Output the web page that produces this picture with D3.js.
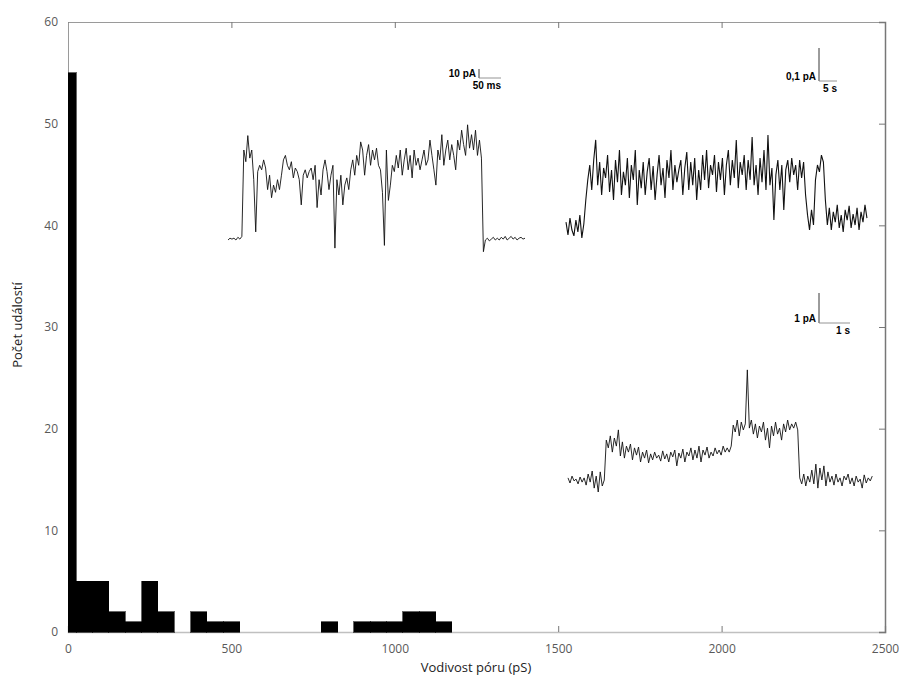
<!DOCTYPE html>
<html>
<head>
<meta charset="utf-8">
<script src="https://cdn.jsdelivr.net/npm/d3@7"></script>
<style>
body { margin: 0; background: #fff; }
text { font-family: "Open Sans", "DejaVu Sans", sans-serif; }
</style>
</head>
<body>
<svg id="chart" width="900" height="677"></svg>
<script>
// histogram of pore conductance (pS)
var binLo  = [0, 25, 75, 125, 175, 225, 275, 375, 425, 475, 775, 875, 925, 975, 1025, 1075, 1125];
var binHi  = [25, 75, 125, 175, 225, 275, 325, 425, 475, 525, 825, 925, 975, 1025, 1075, 1125, 1175];
var counts = [55, 5, 5, 2, 1, 5, 2, 2, 1, 1, 1, 1, 1, 1, 2, 2, 1];

var xTicks = [0, 500, 1000, 1500, 2000, 2500];
var yTicks = [0, 10, 20, 30, 40, 50, 60];

// example recordings, current sampled at equal time steps
// trace A: pA, step 4.5 ms
var traceA = [0, 2, 1, 2, 0, 3, 1, 4, 100, 87, 116, 91, 100, 67, 9, 76, 83, 78, 89, 80,
  56, 72, 47, 61, 53, 67, 56, 72, 89, 94, 83, 78, 87, 69, 80, 76, 67, 39, 72, 78,
  69, 76, 80, 67, 83, 36, 67, 50, 78, 89, 76, 56, 72, 83, -9, 67, 50, 72, 39, 61,
  69, 56, 78, 89, 72, 94, 83, 109, 100, 72, 94, 106, 83, 100, 89, 102, 83, 78, 53, -6,
  100, 44, 61, 83, 76, 94, 80, 100, 72, 89, 102, 78, 94, 69, 100, 83, 91, 78, 89, 100,
  83, 89, 111, 94, 78, 61, 100, 89, 117, 83, 100, 111, 89, 106, 94, 78, 111, 100, 122, 106,
  94, 128, 102, 117, 100, 122, 94, 111, 91, -13, 0, 2, -1, 1, 3, 0, 2, 0, 3, 1,
  4, 0, 2, 4, 1, 3, 0, 2, 3, 1, 2];
// trace B: fA, step 0.55 s
var traceB = [24, -15, 36, 0, -18, 30, -6, 45, -24, 18, 91, 152, 197, 121, 212, 273, 136, 206, 106, 188,
  158, 227, 115, 182, 91, 212, 145, 242, 106, 176, 136, 218, 97, 197, 152, 242, 76, 182, 127, 206,
  106, 176, 218, 121, 194, 91, 167, 227, 136, 188, 97, 212, 158, 242, 121, 197, 145, 182, 212, 106,
  188, 236, 121, 206, 136, 218, 91, 182, 121, 227, 152, 242, 127, 197, 167, 227, 115, 206, 152, 218,
  106, 197, 242, 136, 212, 158, 273, 127, 206, 167, 227, 121, 212, 152, 282, 136, 197, 106, 218, 145,
  242, 121, 288, 136, 188, 30, 167, 212, 121, 197, 61, 182, 212, 145, 218, 167, 197, 121, 212, 158,
  206, 106, 45, 0, 61, 15, 152, 197, 176, 227, 206, 91, 15, 67, 0, 55, 24, 76, 6, 45,
  -6, 61, 30, 73, 6, 48, 15, 67, 0, 55, 24, 76, 36];
// trace C: pA, step 0.065 s
var traceC = [0.07, -0.10, 0.13, -0.03, 0.03, -0.13, 0.10, -0.07, 0.07, -0.17, 0.20, -0.07, 0.30, -0.27, 0.13, -0.40, 0.27, -0.20, 0, 1.33,
  1.07, 1.47, 0.93, 1.40, 1.13, 1.67, 0.80, 1.27, 0.73, 1.13, 0.93, 1.20, 0.67, 1.07, 0.83, 1.10, 0.60, 0.93, 0.73, 1.00,
  0.57, 0.87, 0.67, 0.93, 0.73, 0.83, 0.63, 0.97, 0.70, 0.87, 0.60, 0.93, 0.77, 1.00, 0.47, 0.90, 0.73, 1.03, 0.60, 0.93,
  0.80, 1.07, 0.67, 1.00, 0.73, 1.13, 0.60, 1.00, 0.83, 1.10, 0.73, 0.93, 0.80, 1.07, 0.87, 1.00, 0.83, 1.13, 0.93, 1.07,
  0.93, 1.13, 1.83, 1.60, 2.00, 1.47, 1.93, 1.67, 1.87, 3.67, 1.73, 2.00, 1.53, 1.87, 1.40, 1.80, 1.60, 1.93, 1.33, 1.73,
  1.07, 1.80, 1.47, 1.93, 1.53, 1.73, 1.33, 1.87, 1.60, 2.00, 1.67, 1.87, 1.73, 1.93, 1.67, 0.07, -0.13, 0.20, -0.20, 0.13,
  -0.07, 0.33, -0.13, 0.53, -0.27, 0.40, 0, 0.47, -0.20, 0.27, -0.07, 0.13, -0.17, 0.20, -0.07, 0.07, -0.20, 0.13, 0, 0.20,
  -0.13, 0.07, -0.20, 0.13, -0.07, 0.03, -0.27, 0.17, -0.10, 0.07, -0.03, 0.13];

var svg = d3.select("#chart");
var margin = {left: 68, right: 15, top: 22, bottom: 45};
var W = 900 - margin.left - margin.right,
    H = 677 - margin.top - margin.bottom;

var x = d3.scaleLinear().domain([0, 2500]).range([margin.left, margin.left + W]);
var y = d3.scaleLinear().domain([0, 60]).range([margin.top + H, margin.top]);

var frameColor = "#9a9a9a";

// frame with inward ticks
svg.append("g")
  .attr("transform", "translate(0," + y(0) + ")")
  .call(d3.axisBottom(x).tickValues(xTicks).tickSize(-6).tickPadding(12).tickFormat(d3.format("d")))
  .call(function(g) {
    g.select(".domain").attr("stroke", "#c0c0c0").attr("stroke-width", 1.5);
    g.selectAll(".tick line").attr("stroke", "#777");
    g.selectAll("text").attr("fill", "#595959").style("font-size", "12px");
  });
svg.append("g")
  .attr("transform", "translate(0," + y(60) + ")")
  .call(d3.axisTop(x).tickValues(xTicks).tickSize(-6).tickFormat(""))
  .call(function(g) {
    g.select(".domain").attr("stroke", frameColor);
    g.selectAll(".tick line").attr("stroke", "#777");
  });
svg.append("g")
  .attr("transform", "translate(" + x(0) + ",0)")
  .call(d3.axisLeft(y).tickValues(yTicks).tickSize(0).tickPadding(10))
  .call(function(g) {
    g.select(".domain").attr("stroke", frameColor);
    g.selectAll("text").attr("fill", "#595959").style("font-size", "12px");
  });
svg.append("g")
  .attr("transform", "translate(" + x(2500) + ",0)")
  .call(d3.axisRight(y).tickValues(yTicks.slice(1, 6)).tickSize(-6).tickFormat(""))
  .call(function(g) {
    g.select(".domain").attr("stroke", "#777").attr("stroke-width", 1.5);
    g.selectAll(".tick line").attr("stroke", "#777");
  });

// bars (on top of the inner ticks)
svg.append("g")
  .attr("shape-rendering", "crispEdges")
  .selectAll("rect")
  .data(counts)
  .enter().append("rect")
    .attr("x", function(d, i) { return x(binLo[i]); })
    .attr("y", function(d) { return y(d); })
    .attr("width", function(d, i) { return x(binHi[i]) - x(binLo[i]); })
    .attr("height", function(d) { return y(0) - y(d); })
    .style("fill", "#000")
    .style("stroke", "#000")
    .style("stroke-width", 0.6);

// axis titles
svg.append("text")
  .attr("x", 476).attr("y", 672)
  .attr("text-anchor", "middle")
  .style("font-size", "13px").attr("fill", "#222")
  .text("Vodivost póru (pS)");
svg.append("text")
  .attr("transform", "translate(22,325) rotate(-90)")
  .attr("text-anchor", "middle")
  .style("font-size", "13px").attr("fill", "#222")
  .text("Počet událostí");

// insets: each trace has its own time / current scales
var insets = [
  {data: traceA, dt: 4.5, x0: 228, kx: 0.44, y0: 240, ky: 0.9, width: 0.9,
   bar: {x: 479, y: 78, t: 50, i: 10, tLabel: "50 ms", iLabel: "10 pA"}},
  {data: traceB, dt: 0.55, x0: 566, kx: 3.6, y0: 230, ky: 0.33, width: 1.1,
   bar: {x: 819, y: 81, t: 5, i: 100, tLabel: "5 s", iLabel: "0,1 pA"}},
  {data: traceC, dt: 0.065, x0: 568, kx: 31, y0: 480, ky: 30, width: 0.9,
   bar: {x: 819, y: 323, t: 1, i: 1, tLabel: "1 s", iLabel: "1 pA"}}
];

insets.forEach(function(ins) {
  var tx = d3.scaleLinear().domain([0, 1]).range([ins.x0, ins.x0 + ins.kx]);
  var ty = d3.scaleLinear().domain([0, 1]).range([ins.y0, ins.y0 - ins.ky]);
  var line = d3.line()
    .x(function(d, i) { return tx(i * ins.dt); })
    .y(function(d) { return ty(d); });
  svg.append("path")
    .datum(ins.data)
    .attr("d", line)
    .attr("fill", "none")
    .attr("stroke", "#111")
    .attr("stroke-width", ins.width);

  // scale bar
  var b = ins.bar;
  var bx = d3.scaleLinear().domain([0, 1]).range([b.x, b.x + ins.kx]);
  var by = d3.scaleLinear().domain([0, 1]).range([b.y, b.y - ins.ky]);
  var g = svg.append("g");
  g.append("line")
    .attr("x1", bx(0)).attr("x2", bx(0))
    .attr("y1", by(0)).attr("y2", by(b.i))
    .attr("stroke", "#222").attr("stroke-width", 0.9);
  g.append("line")
    .attr("x1", bx(0)).attr("x2", bx(b.t))
    .attr("y1", by(0)).attr("y2", by(0))
    .attr("stroke", "#888").attr("stroke-width", 0.9);
  g.append("text")
    .attr("x", bx(0) - 3).attr("y", by(0) - 1)
    .attr("text-anchor", "end")
    .style("font-family", "'Liberation Sans', Arial, sans-serif")
    .style("font-size", "10px").style("font-weight", "bold")
    .text(b.iLabel);
  g.append("text")
    .attr("x", bx(b.t)).attr("y", by(0) + 11)
    .attr("text-anchor", "end")
    .style("font-family", "'Liberation Sans', Arial, sans-serif")
    .style("font-size", "10px").style("font-weight", "bold")
    .text(b.tLabel);
});
</script>
</body>
</html>
